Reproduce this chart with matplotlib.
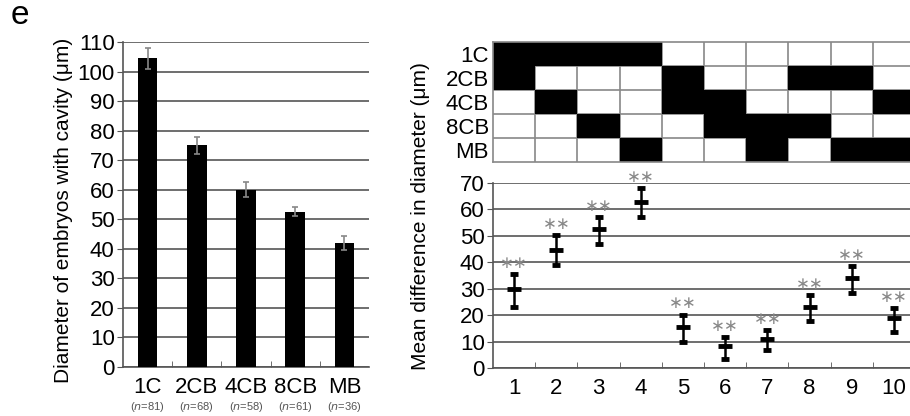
import numpy as np
import matplotlib.pyplot as plt
from matplotlib.colors import ListedColormap
from matplotlib.transforms import blended_transform_factory

plt.rcParams['font.family'] = ['Liberation Sans', 'DejaVu Sans']

# left panel data
stages = ['1C', '2CB', '4CB', '8CB', 'MB']
n_counts = [81, 68, 58, 61, 36]
diam_mean = [104.5, 75, 60, 52.5, 42]
diam_err = [3.5, 3, 2.5, 1.5, 2.5]

# right panel data
comparisons = [1, 2, 3, 4, 5, 6, 7, 8, 9, 10]
# which two stages are compared in each column (1 = black cell)
pair_1C = [1, 1, 1, 1, 0, 0, 0, 0, 0, 0]
pair_2CB = [1, 0, 0, 0, 1, 0, 0, 1, 1, 0]
pair_4CB = [0, 1, 0, 0, 1, 1, 0, 0, 0, 1]
pair_8CB = [0, 0, 1, 0, 0, 1, 1, 1, 0, 0]
pair_MB = [0, 0, 0, 1, 0, 0, 1, 0, 1, 1]
diff_mean = [30, 44.5, 52.5, 63, 15.5, 8.5, 11, 23, 34, 19]
diff_low = [23, 38.8, 46.8, 57, 10, 3.5, 6.7, 17.9, 28.2, 13.8]
diff_high = [35.6, 50.4, 57.2, 68.2, 20.2, 11.7, 14.5, 27.5, 38.5, 22.7]

W, H = 910, 416
fig = plt.figure(figsize=(W / 100, H / 100), dpi=100)

def box(x0, y0, x1, y1):
    return [x0 / W, 1 - y1 / H, (x1 - x0) / W, (y1 - y0) / H]

GRID = '#555555'
FS = 16

# ---- left bar chart
ax1 = fig.add_axes(box(123, 42, 369, 367))
x = np.arange(len(stages))
ax1.bar(x, diam_mean, width=0.4, color='black', zorder=3)
ax1.errorbar(x, diam_mean, yerr=diam_err, fmt='none', ecolor='#888888',
             elinewidth=1.2, capsize=2.5, capthick=1.2, zorder=4)
ax1.set_xlim(-0.5, 4.5)
ax1.set_ylim(0, 110)
ax1.set_yticks(np.arange(0, 111, 10))
ax1.yaxis.grid(True, color=GRID, linewidth=1.2, zorder=0)
ax1.set_xticks(x)
ax1.set_xticklabels(stages, fontsize=FS)
ax1.set_xticks(x[:-1] + 0.5, minor=True)
ax1.tick_params(axis='x', which='major', length=0, pad=7)
ax1.tick_params(axis='x', which='minor', direction='in', length=4, color=GRID)
ax1.tick_params(axis='y', labelsize=FS, length=4, color=GRID, pad=2)
for s in ['top', 'right']:
    ax1.spines[s].set_visible(False)
for s in ['left', 'bottom']:
    ax1.spines[s].set_color(GRID)
    ax1.spines[s].set_linewidth(1.2)
trans = blended_transform_factory(ax1.transData, fig.transFigure)
for xi, n in zip(x, n_counts):
    ax1.text(xi, 1 - 407 / H, '($n$=%d)' % n, transform=trans, ha='center',
             va='center', fontsize=8, color='#555555')
fig.text(64 / W, 1 - 210 / H, 'Diameter of embryos with cavity (\u03bcm)',
         rotation=90, ha='center', va='center', fontsize=15)
fig.text(20 / W, 1 - 16 / H, 'e', fontsize=24, ha='center', va='center')

# ---- right: comparison grid
ax2 = fig.add_axes(box(493, 42, 915, 162))
cells = np.array([pair_1C, pair_2CB, pair_4CB, pair_8CB, pair_MB])
for gx in np.arange(1.5, 10.5, 1):
    ax2.axvline(gx, color='#888888', linewidth=1.2, zorder=1)
for gy in np.arange(0.5, 4.5, 1):
    ax2.axhline(gy, color='#888888', linewidth=1.2, zorder=1)
ax2.pcolormesh(np.arange(11) + 0.5, np.arange(6) - 0.5,
               np.ma.masked_equal(cells, 0), cmap=ListedColormap(['black']),
               vmin=0, vmax=1, zorder=2)
ax2.set_xlim(0.5, 10.5)
ax2.set_ylim(4.5, -0.5)
ax2.set_yticks(range(5))
ax2.set_yticklabels(stages, fontsize=FS)
ax2.set_xticks([])
ax2.tick_params(axis='y', length=0, pad=3)
for s in ax2.spines.values():
    s.set_color('#888888')
    s.set_linewidth(1.2)

# ---- right: mean differences
ax3 = fig.add_axes(box(493, 183, 915, 368))
ax3.errorbar(comparisons, diff_mean,
             yerr=[np.subtract(diff_mean, diff_low), np.subtract(diff_high, diff_mean)],
             fmt='_', color='black', markersize=10, markeredgewidth=3.5,
             elinewidth=1.8, capsize=3, capthick=1.8, zorder=4)
for c, hi in zip(comparisons, diff_high):
    ax3.text(c, hi + 0.8, '\u2217\u2217', ha='center', va='bottom', fontsize=12,
             color='#888888', family=['DejaVu Sans'])
ax3.set_xlim(0.5, 10.5)
ax3.set_ylim(0, 70)
ax3.set_yticks(np.arange(0, 71, 10))
ax3.yaxis.grid(True, color=GRID, linewidth=1.2, zorder=0)
ax3.set_xticks(comparisons)
ax3.set_xticklabels([str(c) for c in comparisons], fontsize=FS)
ax3.set_xticks(np.arange(1.5, 10.5, 1), minor=True)
ax3.tick_params(axis='x', which='major', length=0, pad=7)
ax3.tick_params(axis='x', which='minor', direction='in', length=4, color=GRID)
ax3.tick_params(axis='y', labelsize=FS, length=4, color=GRID, pad=2)
for s in ['top', 'right']:
    ax3.spines[s].set_visible(False)
for s in ['left', 'bottom']:
    ax3.spines[s].set_color(GRID)
    ax3.spines[s].set_linewidth(1.2)
fig.text(420 / W, 1 - 216 / H, 'Mean difference in diameter (\u03bcm)',
         rotation=90, ha='center', va='center', fontsize=15)

fig.savefig('out.png', dpi=100)
